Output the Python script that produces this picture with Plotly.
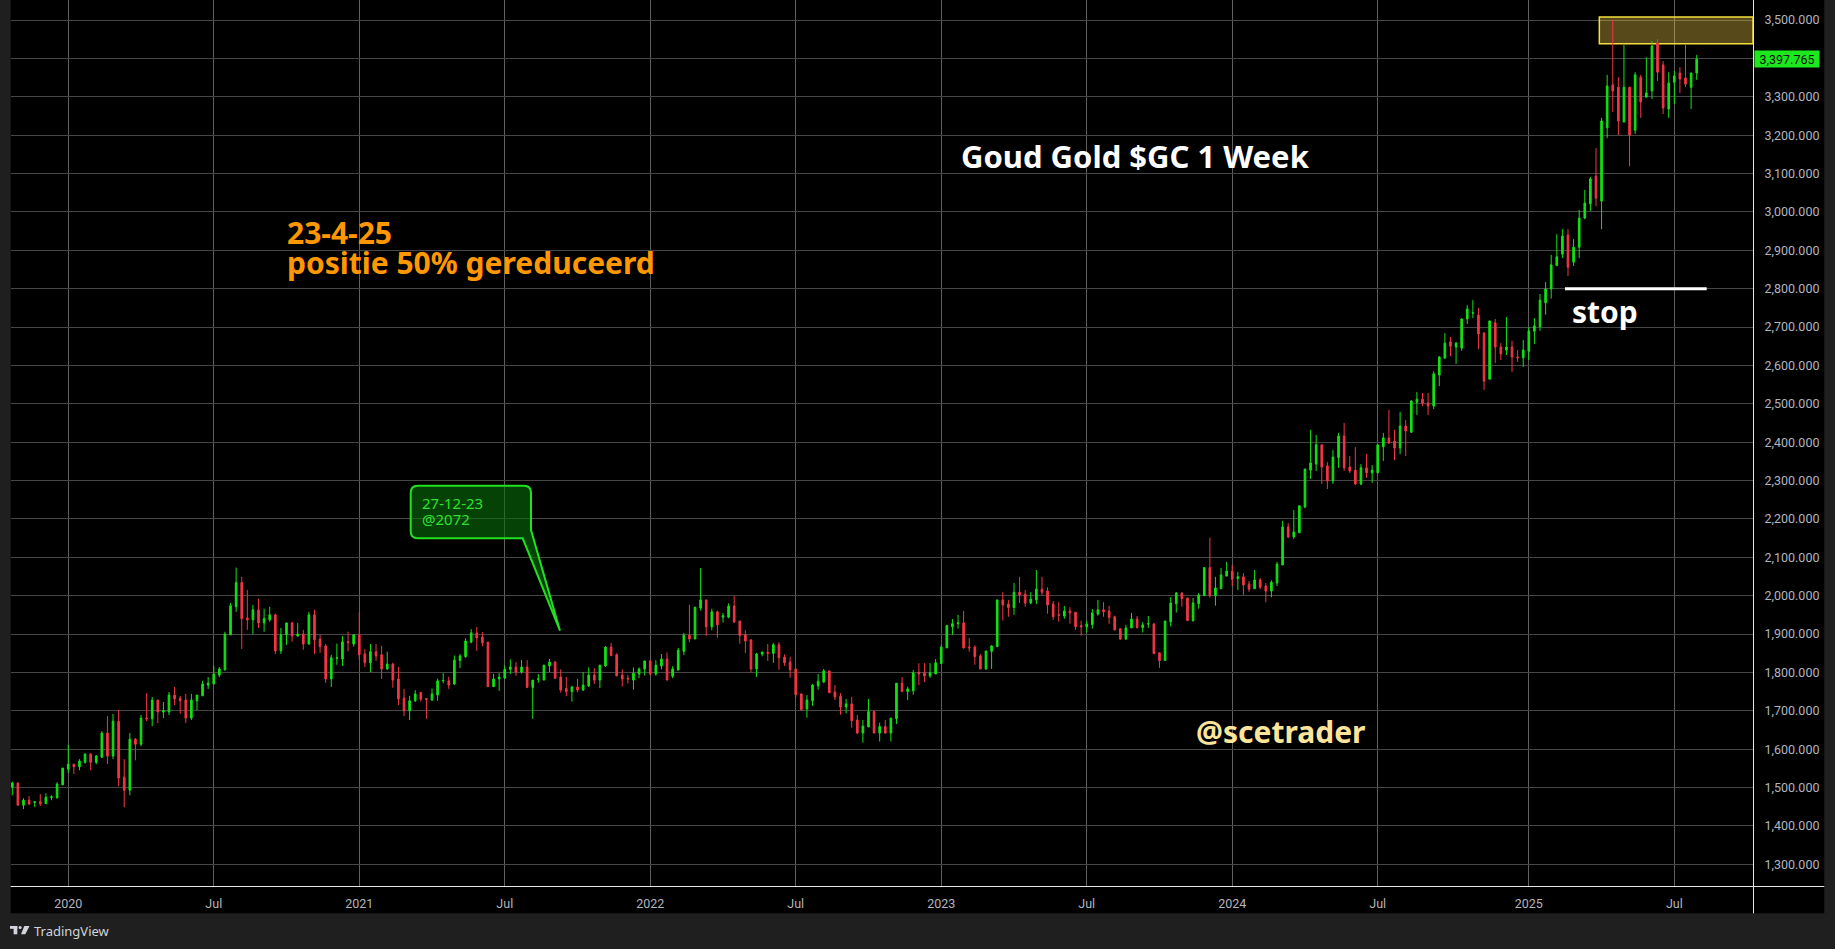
import pandas as pd
import plotly.graph_objects as go

# ---------------- data (weekly candles, Gold futures) ----------------
start_date = "2019-10-28"

opens = [
    1501,1512,1454,1467,1461,1463,1458,1474,1473,1507,
    1548,1561,1554,1566,1587,1566,1579,1642,1582,1673,
    1527,1493,1626,1613,1681,1679,1728,1697,1697,1741,
    1733,1728,1681,1726,1739,1767,1770,1793,1807,1898,
    1971,2034,1942,1937,1963,1929,1937,1950,1856,1898,
    1929,1895,1900,1874,1950,1887,1869,1783,1837,1835,
    1880,1874,1898,1848,1825,1854,1846,1809,1822,1783,
    1733,1700,1726,1748,1732,1728,1741,1778,1778,1770,
    1831,1841,1879,1903,1892,1879,1763,1783,1785,1808,
    1814,1801,1814,1761,1782,1780,1817,1827,1788,1758,
    1750,1762,1754,1765,1793,1780,1817,1866,1846,1793,
    1785,1780,1796,1809,1830,1796,1817,1835,1790,1806,
    1855,1897,1887,1968,1989,1919,1958,1944,1944,1973,
    1934,1898,1885,1809,1848,1852,1850,1872,1840,1827,
    1809,1744,1705,1726,1765,1775,1804,1749,1738,1710,
    1718,1676,1642,1658,1698,1642,1659,1642,1680,1772,
    1750,1752,1800,1799,1791,1796,1823,1864,1919,1927,
    1929,1866,1866,1843,1809,1855,1867,1989,1978,1969,
    2009,2004,1981,1989,2017,2012,1978,1950,1947,1960,
    1957,1922,1919,1925,1952,1963,1960,1945,1914,1887,
    1916,1939,1917,1926,1926,1851,1831,1932,1979,2007,
    1994,1935,1979,2000,2073,2000,2018,2051,2064,2045,
    2049,2030,2018,2041,2025,2012,2033,2080,2179,2153,
    2164,2231,2327,2343,2393,2338,2299,2360,2416,2335,
    2327,2291,2333,2320,2320,2388,2411,2403,2385,2442,
    2426,2504,2512,2502,2494,2575,2619,2661,2648,2645,
    2721,2736,2731,2684,2564,2711,2648,2640,2648,2622,
    2620,2637,2689,2701,2763,2799,2860,2890,2940,2869,
    2908,2984,3021,3093,3028,3219,3331,3325,3234,3325,
    3213,3351,3299,3315,3440,3383,3268,3338,3362,3349,
    3325,3362,
]
highs = [
    1515,1513,1472,1478,1465,1483,1485,1480,1514,1551,
    1611,1561,1574,1590,1590,1585,1647,1686,1692,1702,
    1574,1642,1629,1689,1746,1736,1728,1723,1749,1762,
    1739,1744,1744,1741,1778,1788,1817,1814,1906,1981,
    2073,2049,2015,1976,1992,1966,1971,1953,1916,1929,
    1932,1929,1911,1958,1963,1898,1874,1846,1875,1895,
    1906,1900,1958,1861,1874,1874,1869,1854,1825,1814,
    1757,1739,1754,1748,1733,1758,1784,1798,1789,1844,
    1848,1889,1913,1918,1905,1879,1796,1798,1818,1834,
    1827,1832,1832,1780,1796,1819,1835,1830,1808,1788,
    1765,1783,1801,1813,1811,1819,1869,1877,1850,1808,
    1793,1813,1813,1830,1832,1832,1848,1852,1816,1864,
    1903,1976,1970,2072,1989,1966,1961,1955,1980,1999,
    1934,1910,1885,1851,1854,1874,1877,1879,1847,1841,
    1809,1745,1741,1770,1796,1809,1804,1767,1746,1731,
    1736,1689,1676,1731,1700,1669,1676,1681,1772,1788,
    1763,1806,1824,1824,1824,1835,1871,1924,1939,1950,
    1960,1890,1871,1848,1856,1871,1989,2010,1989,2033,
    2049,2015,2009,2067,2049,2022,1986,1983,1973,1970,
    1957,1935,1935,1965,1989,1983,1973,1948,1914,1924,
    1955,1947,1931,1947,1929,1851,1934,1996,2009,2009,
    1994,1994,2007,2075,2151,2049,2072,2088,2080,2062,
    2059,2038,2067,2046,2033,2040,2088,2195,2189,2223,
    2236,2330,2432,2419,2393,2348,2380,2424,2450,2364,
    2387,2343,2369,2340,2393,2424,2484,2432,2479,2458,
    2510,2531,2528,2528,2585,2624,2684,2674,2661,2723,
    2757,2770,2750,2687,2716,2721,2658,2726,2664,2640,
    2666,2700,2723,2786,2817,2888,2942,2955,2955,2929,
    3005,3057,3091,3166,3245,3357,3500,3351,3435,3325,
    3364,3357,3403,3445,3450,3393,3364,3367,3377,3437,
    3362,3409,
]
lows = [
    1480,1453,1444,1454,1449,1452,1457,1467,1472,1507,
    1538,1535,1545,1562,1545,1561,1577,1561,1574,1504,
    1449,1480,1571,1608,1673,1660,1668,1681,1689,1715,
    1692,1668,1676,1702,1739,1757,1770,1788,1804,1898,
    1958,1861,1911,1900,1916,1906,1932,1848,1848,1872,
    1880,1893,1859,1872,1848,1851,1773,1762,1820,1817,
    1855,1867,1833,1814,1801,1830,1783,1807,1760,1715,
    1686,1676,1723,1724,1679,1726,1726,1772,1757,1767,
    1811,1838,1876,1856,1868,1763,1763,1752,1785,1796,
    1791,1797,1759,1679,1773,1780,1801,1783,1747,1738,
    1724,1748,1752,1762,1770,1759,1814,1842,1791,1763,
    1771,1755,1785,1792,1792,1791,1808,1780,1785,1806,
    1845,1879,1887,1961,1895,1910,1891,1930,1941,1931,
    1875,1851,1800,1788,1842,1830,1825,1807,1817,1786,
    1735,1700,1682,1713,1755,1772,1747,1728,1690,1693,
    1656,1640,1617,1658,1642,1620,1640,1620,1666,1750,
    1728,1742,1767,1775,1786,1796,1823,1864,1898,1914,
    1862,1854,1820,1809,1807,1809,1867,1935,1945,1950,
    1981,1971,1978,1978,2002,1953,1937,1932,1940,1927,
    1911,1896,1904,1914,1948,1945,1927,1909,1885,1885,
    1916,1914,1904,1916,1849,1812,1831,1920,1956,1971,
    1935,1932,1966,2000,1995,1974,2018,2051,2025,2015,
    2002,2010,2018,2017,1983,1996,2025,2080,2150,2148,
    2164,2228,2304,2325,2291,2278,2291,2333,2325,2320,
    2288,2288,2307,2294,2320,2351,2395,2353,2369,2364,
    2424,2471,2494,2471,2486,2546,2617,2624,2604,2638,
    2708,2723,2643,2536,2564,2606,2614,2627,2583,2609,
    2596,2614,2656,2690,2732,2774,2860,2880,2833,2859,
    2880,2981,3002,3015,2955,3192,3260,3200,3234,3119,
    3203,3245,3299,3294,3341,3255,3245,3281,3310,3325,
    3268,3344,
]
closes = [
    1512,1454,1467,1457,1463,1458,1475,1476,1509,1551,
    1561,1554,1569,1587,1566,1582,1642,1582,1673,1525,
    1493,1626,1613,1681,1679,1728,1697,1700,1741,1731,
    1726,1681,1728,1741,1770,1772,1796,1809,1900,1974,
    2034,1940,1937,1963,1929,1940,1950,1856,1898,1929,
    1895,1900,1874,1950,1885,1867,1783,1838,1838,1880,
    1878,1898,1846,1825,1854,1843,1809,1822,1780,1731,
    1700,1726,1744,1730,1730,1744,1778,1779,1767,1832,
    1843,1882,1903,1890,1877,1763,1783,1788,1808,1814,
    1801,1814,1761,1780,1783,1819,1827,1785,1754,1750,
    1762,1754,1767,1793,1780,1819,1866,1844,1791,1783,
    1783,1798,1809,1830,1796,1819,1835,1780,1809,1858,
    1897,1887,1970,1989,1919,1958,1924,1948,1973,1931,
    1896,1882,1809,1848,1853,1850,1872,1838,1825,1807,
    1742,1703,1728,1767,1777,1804,1747,1736,1710,1718,
    1674,1642,1660,1698,1642,1659,1642,1681,1772,1750,
    1757,1799,1796,1791,1799,1825,1866,1922,1927,1929,
    1864,1864,1841,1809,1856,1869,1989,1976,1969,2009,
    2002,1981,1991,2017,2009,1976,1945,1949,1960,1955,
    1919,1919,1926,1955,1963,1958,1943,1911,1887,1916,
    1939,1917,1924,1927,1849,1831,1934,1981,2007,1992,
    1935,1981,2002,2073,2000,2020,2054,2064,2043,2049,
    2028,2017,2041,2022,2012,2035,2082,2179,2153,2166,
    2234,2330,2346,2393,2335,2299,2361,2416,2333,2325,
    2291,2333,2320,2327,2393,2411,2398,2385,2442,2429,
    2507,2512,2502,2494,2578,2622,2658,2650,2658,2721,
    2747,2737,2682,2559,2716,2648,2630,2648,2622,2620,
    2640,2690,2703,2770,2799,2862,2883,2937,2856,2908,
    2984,3023,3086,3036,3237,3328,3315,3237,3325,3200,
    3357,3286,3310,3432,3364,3271,3336,3354,3346,3333,
    3362,3397.765,
]

tick_dates = ["2020-01-06", "2020-07-06", "2021-01-04", "2021-07-05",
              "2022-01-03", "2022-07-04", "2023-01-02", "2023-07-03",
              "2024-01-01", "2024-07-01", "2025-01-06", "2025-07-07"]
tick_labels = ["2020", "Jul", "2021", "Jul", "2022", "Jul",
               "2023", "Jul", "2024", "Jul", "2025", "Jul"]
price_ticks = list(range(1300, 3600, 100))
hidden_price_tick = 3400   # covered by the last-price label

stop_level = 2800
zone_low, zone_high = 3438, 3508
callout_lines = ["27-12-23", "@2072"]
title_text = "Goud Gold $GC 1 Week"
note_lines = ["23-4-25", "positie 50% gereduceerd"]
author = "@scetrader"

dates = pd.date_range(start_date, periods=len(opens), freq="7D")

# ---------------- geometry ----------------
W, H = 1835, 949
ML, MR, MT, MB = 11, 82, 0, 63
PW, PH = W - ML - MR, H - MT - MB
PX_PER_DAY = 5.596 / 7.0


def fx(px):
    return (px - ML) / PW


def fy(py):
    return (PH + MT - py) / PH


x0 = dates[0] - pd.Timedelta(days=1.63)
x1 = x0 + pd.Timedelta(days=PW / PX_PER_DAY)

GREEN = "#12e212"
RED = "#f23645"
FRAME = "#1f1f1f"
TICKC = "#b2b5be"
FONT = "Noto Sans, sans-serif"

fig = go.Figure()
fig.add_trace(go.Candlestick(
    x=dates, open=opens, high=highs, low=lows, close=closes,
    increasing=dict(line=dict(color=GREEN, width=1), fillcolor=GREEN),
    decreasing=dict(line=dict(color=RED, width=1), fillcolor=RED),
    whiskerwidth=0, hoverinfo="skip", showlegend=False,
))

shapes = []
# outer frame strips
shapes.append(dict(type="rect", xref="paper", yref="paper", x0=fx(0), x1=fx(10.7),
                   y0=fy(0), y1=fy(H), fillcolor=FRAME, line_width=0, layer="above"))
shapes.append(dict(type="rect", xref="paper", yref="paper", x0=fx(1824.3), x1=fx(W),
                   y0=fy(0), y1=fy(H), fillcolor=FRAME, line_width=0, layer="above"))
shapes.append(dict(type="rect", xref="paper", yref="paper", x0=fx(0), x1=fx(W),
                   y0=fy(913.3), y1=fy(H), fillcolor=FRAME, line_width=0, layer="above"))
# axis lines
shapes.append(dict(type="line", xref="paper", yref="paper", x0=fx(10.7), x1=fx(1824.3),
                   y0=fy(886.5), y1=fy(886.5), line=dict(color="#e6e6e6", width=1), layer="above"))
shapes.append(dict(type="line", xref="paper", yref="paper", x0=fx(1753.5), x1=fx(1753.5),
                   y0=fy(0), y1=fy(913.3), line=dict(color="#e6e6e6", width=1), layer="above"))
# yellow resistance zone
zone_start = dates[283] + pd.Timedelta(days=0.6 * 7)
shapes.append(dict(type="rect", xref="x", yref="y", x0=zone_start, x1=x1,
                   y0=zone_low, y1=zone_high, fillcolor="rgba(255,215,75,0.34)",
                   line=dict(color="#f3df3c", width=1.5), layer="between"))
# stop line
shapes.append(dict(type="line", xref="paper", yref="y", x0=fx(1565), x1=fx(1706.7),
                   y0=stop_level, y1=stop_level, line=dict(color="#ffffff", width=3), layer="above"))

# callout balloon
L_, R_, T_, B_ = 410.7, 531.0, 485.7, 538.3
r = 7
pts = [
    ("M", L_ + r, T_), ("L", R_ - r, T_), ("Q", R_, T_, R_, T_ + r), ("L", R_, 530.0),
    ("L", 560.0, 630.7), ("L", 522.7, B_), ("L", L_ + r, B_), ("Q", L_, B_, L_, B_ - r),
    ("L", L_, T_ + r), ("Q", L_, T_, L_ + r, T_),
]
segs = []
for p in pts:
    cmd = p[0]
    coords = p[1:]
    cs = []
    for i in range(0, len(coords), 2):
        cs.append(f"{fx(coords[i]):.6f},{fy(coords[i + 1]):.6f}")
    segs.append(cmd + " " + " ".join(cs))
path = " ".join(segs) + " Z"
shapes.append(dict(type="path", xref="paper", yref="paper", path=path,
                   fillcolor="rgba(8,110,8,0.6)", line=dict(color="#22e022", width=2),
                   layer="above"))

# TradingView logo mark
shapes.append(dict(type="rect", xref="paper", yref="paper", x0=fx(10), x1=fx(17.3),
                   y0=fy(926), y1=fy(928.8), fillcolor="#d1d4dc", line_width=0, layer="above"))
shapes.append(dict(type="rect", xref="paper", yref="paper", x0=fx(13.6), x1=fx(17.3),
                   y0=fy(926), y1=fy(934.3), fillcolor="#d1d4dc", line_width=0, layer="above"))
shapes.append(dict(type="circle", xref="paper", yref="paper", x0=fx(18.6), x1=fx(21.6),
                   y0=fy(926), y1=fy(929), fillcolor="#d1d4dc", line_width=0, layer="above"))
shapes.append(dict(type="path", xref="paper", yref="paper",
                   path=f"M {fx(24.3)},{fy(926)} L {fx(29.5)},{fy(926)} L {fx(25.3)},{fy(934.3)} L {fx(21.0)},{fy(934.3)} Z",
                   fillcolor="#d1d4dc", line_width=0, layer="above"))

ann = []


def text(px, py, s, size, color, bold=True, family=FONT):
    ann.append(dict(xref="paper", yref="paper", x=fx(px), y=fy(py), text=s,
                    showarrow=False, xanchor="left", yanchor="middle",
                    font=dict(family=family, size=size, color=color,
                              weight=700 if bold else 400)))


text(284.5, 232.7, note_lines[0], 30, "#ff9800")
text(284.5, 262.4, note_lines[1], 30, "#ff9800")
text(959, 155.5, title_text, 31, "#ffffff")
text(1194, 731.5, author, 30, "#fbe59a")
text(1569.5, 311.7, "stop", 30, "#ffffff")
text(419.5, 502.8, callout_lines[0], 15, "#2fe02f", bold=False)
text(419.5, 518.8, callout_lines[1], 15, "#2fe02f", bold=False)
text(31.5, 931.0, "TradingView", 13, "#d1d4dc", bold=False)

# last price label
ann.append(dict(xref="paper", yref="y", x=fx(1754), y=closes[-1],
                text=f"{closes[-1]:,.3f}", showarrow=False, xanchor="left", yanchor="middle",
                bgcolor="#1de81d", width=62, height=14, borderpad=1, align="center",
                font=dict(family="Roboto, sans-serif", size=12.5, color="#111111")))

price_text = ["" if v == hidden_price_tick else f"{v:,.3f}" for v in price_ticks]

fig.update_layout(
    width=W, height=H,
    margin=dict(l=ML, r=MR, t=MT, b=MB, pad=0, autoexpand=False),
    paper_bgcolor="#000000", plot_bgcolor="#000000",
    showlegend=False, hovermode=False, boxgap=0.58,
    shapes=shapes, annotations=ann,
    xaxis=dict(type="date", range=[x0, x1], tickmode="array", tickvals=tick_dates,
               ticktext=tick_labels, showgrid=True, gridcolor="#5f5f5f", gridwidth=1,
               zeroline=False, showline=False, ticks="outside", ticklen=6, automargin=False,
               tickcolor="rgba(0,0,0,0)", rangeslider=dict(visible=False),
               tickfont=dict(family="Roboto, sans-serif", size=12.5, color=TICKC)),
    yaxis=dict(side="right", range=[1243.5, 3552.1], tickmode="array", tickvals=price_ticks,
               ticktext=price_text, showgrid=True, gridcolor="#464646", gridwidth=1,
               zeroline=False, showline=False, ticks="outside", ticklen=8, automargin=False,
               tickcolor="rgba(0,0,0,0)",
               tickfont=dict(family="Roboto, sans-serif", size=12.5, color=TICKC)),
)

fig.write_html(
    "out.html",
    config={"displayModeBar": False, "staticPlot": True},
    post_script="document.body.style.margin='0px';document.body.style.padding='0px';"
                "document.body.style.background='#1f1f1f';document.body.style.overflow='hidden';",
)
